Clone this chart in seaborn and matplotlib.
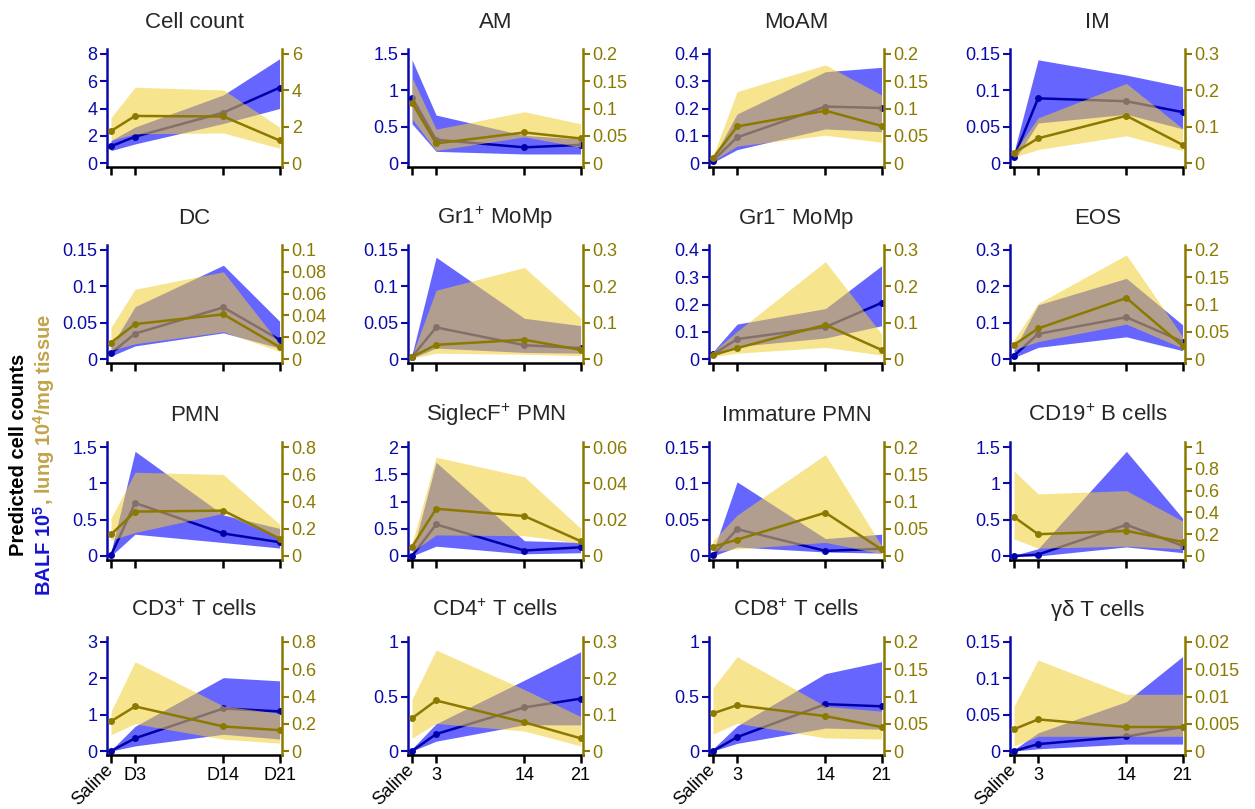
import matplotlib
matplotlib.use("Agg")
import matplotlib.pyplot as plt
from matplotlib.ticker import FuncFormatter
import seaborn as sns

# ---------------- data ----------------
days = [0, 3, 14, 21]

titles = ["Cell count", "AM", "MoAM", "IM",
          "DC", r"Gr1$^{\mathrm{+}}$ MoMp", r"Gr1$^{\mathrm{-}}$ MoMp", "EOS",
          "PMN", r"SiglecF$^{\mathrm{+}}$ PMN", "Immature PMN", r"CD19$^{\mathrm{+}}$ B cells",
          r"CD3$^{\mathrm{+}}$ T cells", r"CD4$^{\mathrm{+}}$ T cells", r"CD8$^{\mathrm{+}}$ T cells", "γδ T cells"]

balf_mean = [
    [1.23, 1.93, 3.7, 5.53], [0.90, 0.32, 0.215, 0.25], [0.009, 0.094, 0.207, 0.202], [0.008, 0.089, 0.085, 0.070],
    [0.008, 0.035, 0.071, 0.0265], [0.003, 0.0435, 0.019, 0.015], [0.017, 0.073, 0.117, 0.206], [0.009, 0.069, 0.115, 0.048],
    [0.01, 0.73, 0.31, 0.19], [0.0, 0.58, 0.10, 0.16], [0.001, 0.037, 0.007, 0.010], [0.0, 0.02, 0.43, 0.14],
    [0.0, 0.35, 1.17, 1.09], [0.0, 0.155, 0.40, 0.48], [0.0, 0.127, 0.43, 0.41], [0.0, 0.0095, 0.02, 0.033],
]
balf_lo = [
    [0.91, 1.4, 2.9, 4.0], [0.54, 0.16, 0.124, 0.124], [0.002, 0.049, 0.125, 0.115], [0.003, 0.055, 0.067, 0.047],
    [0.004, 0.018, 0.036, 0.015], [0.001, 0.015, 0.009, 0.008], [0.009, 0.046, 0.077, 0.122], [0.004, 0.032, 0.061, 0.023],
    [0.0, 0.30, 0.185, 0.11], [0.0, 0.18, 0.04, 0.06], [0.0, 0.0124, 0.0055, 0.004], [0.0, 0.0, 0.125, 0.046],
    [0.0, 0.14, 0.46, 0.33], [0.0, 0.09, 0.24, 0.24], [0.0, 0.07, 0.21, 0.2], [0.0, 0.003, 0.0095, 0.0095],
]
balf_hi = [
    [1.65, 2.64, 5.0, 7.65], [1.42, 0.66, 0.38, 0.33], [0.018, 0.18, 0.335, 0.351], [0.015, 0.142, 0.121, 0.105],
    [0.017, 0.072, 0.129, 0.052], [0.006, 0.14, 0.056, 0.046], [0.027, 0.128, 0.185, 0.342], [0.025, 0.149, 0.222, 0.094],
    [0.055, 1.44, 0.565, 0.38], [0.04, 1.72, 0.28, 0.25], [0.0055, 0.102, 0.024, 0.030], [0.01, 0.1, 1.44, 0.52],
    [0.02, 0.68, 2.02, 1.93], [0.02, 0.25, 0.65, 0.91], [0.02, 0.23, 0.71, 0.82], [0.002, 0.025, 0.068, 0.13],
]
lung_mean = [
    [1.76, 2.59, 2.56, 1.24], [0.111, 0.036, 0.056, 0.045], [0.009, 0.067, 0.096, 0.068], [0.028, 0.068, 0.13, 0.05],
    [0.015, 0.032, 0.041, 0.011], [0.006, 0.039, 0.053, 0.025], [0.011, 0.03, 0.094, 0.025], [0.026, 0.056, 0.112, 0.024],
    [0.158, 0.326, 0.333, 0.128], [0.005, 0.026, 0.022, 0.0082], [0.017, 0.03, 0.0795, 0.012], [0.358, 0.20, 0.23, 0.13],
    [0.218, 0.327, 0.18, 0.153], [0.09, 0.139, 0.079, 0.035], [0.069, 0.084, 0.064, 0.044], [0.004, 0.0058, 0.0044, 0.0044],
]
lung_lo = [
    [1.24, 1.61, 1.65, 0.81], [0.081, 0.023, 0.048, 0.029], [0.004, 0.031, 0.051, 0.038], [0.016, 0.037, 0.075, 0.034],
    [0.008, 0.014, 0.025, 0.007], [0.002, 0.016, 0.013, 0.009], [0.007, 0.016, 0.032, 0.011], [0.017, 0.032, 0.064, 0.02],
    [0.116, 0.173, 0.314, 0.128], [0.0022, 0.0116, 0.0112, 0.0069], [0.008, 0.013, 0.025, 0.004], [0.157, 0.072, 0.09, 0.066],
    [0.12, 0.20, 0.087, 0.058], [0.035, 0.076, 0.055, 0.014], [0.031, 0.051, 0.024, 0.022], [0.0009, 0.0027, 0.0027, 0.0027],
]
lung_hi = [
    [2.5, 4.17, 4.02, 1.98], [0.157, 0.062, 0.094, 0.072], [0.013, 0.131, 0.18, 0.125], [0.029, 0.124, 0.219, 0.095],
    [0.029, 0.064, 0.080, 0.014], [0.009, 0.189, 0.252, 0.113], [0.02, 0.076, 0.268, 0.069], [0.035, 0.102, 0.191, 0.041],
    [0.277, 0.615, 0.598, 0.232], [0.0069, 0.0544, 0.0436, 0.0153], [0.028, 0.075, 0.186, 0.019], [0.78, 0.57, 0.60, 0.32],
    [0.29, 0.655, 0.33, 0.276], [0.142, 0.278, 0.169, 0.095], [0.116, 0.173, 0.082, 0.073], [0.0082, 0.0167, 0.0104, 0.0104],
]

left_ticks = [
    [0, 2, 4, 6, 8], [0, 0.5, 1, 1.5], [0, 0.1, 0.2, 0.3, 0.4], [0, 0.05, 0.1, 0.15],
    [0, 0.05, 0.1, 0.15], [0, 0.05, 0.1, 0.15], [0, 0.1, 0.2, 0.3, 0.4], [0, 0.1, 0.2, 0.3],
    [0, 0.5, 1, 1.5], [0, 0.5, 1, 1.5, 2], [0, 0.05, 0.1, 0.15], [0, 0.5, 1, 1.5],
    [0, 1, 2, 3], [0, 0.5, 1], [0, 0.5, 1], [0, 0.05, 0.1, 0.15],
]
right_ticks = [
    [0, 2, 4, 6], [0, 0.05, 0.1, 0.15, 0.2], [0, 0.05, 0.1, 0.15, 0.2], [0, 0.1, 0.2, 0.3],
    [0, 0.02, 0.04, 0.06, 0.08, 0.1], [0, 0.1, 0.2, 0.3], [0, 0.1, 0.2, 0.3], [0, 0.05, 0.1, 0.15, 0.2],
    [0, 0.2, 0.4, 0.6, 0.8], [0, 0.02, 0.04, 0.06], [0, 0.05, 0.1, 0.15, 0.2], [0, 0.2, 0.4, 0.6, 0.8, 1],
    [0, 0.2, 0.4, 0.6, 0.8], [0, 0.1, 0.2, 0.3], [0, 0.05, 0.1, 0.15, 0.2], [0, 0.005, 0.01, 0.015, 0.02],
]

xlabels_first = ["Saline", "D3", "D14", "D21"]
xlabels_other = ["Saline", "3", "14", "21"]

# ---------------- style ----------------
sns.set_style("ticks")
plt.rcParams["font.family"] = ["Liberation Sans", "DejaVu Sans"]
plt.rcParams["mathtext.fontset"] = "custom"
plt.rcParams["mathtext.rm"] = "Liberation Sans"
plt.rcParams["mathtext.bf"] = "Liberation Sans:bold"
plt.rcParams["mathtext.it"] = "Liberation Sans:italic"

BAND_BLUE = "#0000FF"
LINE_BLUE = "#0000A8"
AX_BLUE = "#0A0AAA"
BAND_YEL = "#F2CE34"
OLIVE = "#8C7A00"
LABEL_BLUE = "#1414D2"
LABEL_TAN = "#C2A44A"

W, H = 1255, 809
fig = plt.figure(figsize=(W / 100, H / 100), dpi=100)

col_left = [107, 408, 709, 1010]
row_top = [49, 245, 442, 637]
AW, AH = 175, 118
lo_f, hi_f = -4 / 109, 1 + 5 / 109

fmt = FuncFormatter(lambda v, p: f"{v:g}")

for i in range(16):
    r, c = divmod(i, 4)
    ax = fig.add_axes([col_left[c] / W, 1 - (row_top[r] + AH) / H, AW / W, AH / H])
    ax.fill_between(days, balf_lo[i], balf_hi[i], color=BAND_BLUE, alpha=0.6, linewidth=0)
    sns.lineplot(x=days, y=balf_mean[i], ax=ax, color=LINE_BLUE, marker="o",
                 markersize=5, markeredgewidth=0, linewidth=1.8)
    ax2 = ax.twinx()
    ax2.fill_between(days, lung_lo[i], lung_hi[i], color=BAND_YEL, alpha=0.55, linewidth=0)
    sns.lineplot(x=days, y=lung_mean[i], ax=ax2, color=OLIVE, marker="o",
                 markersize=5, markeredgewidth=0, linewidth=1.8)

    T1 = left_ticks[i][-1]
    T2 = right_ticks[i][-1]
    ax.set_ylim(lo_f * T1, hi_f * T1)
    ax2.set_ylim(lo_f * T2, hi_f * T2)
    ax.set_yticks(left_ticks[i])
    ax2.set_yticks(right_ticks[i])
    ax.yaxis.set_major_formatter(fmt)
    ax2.yaxis.set_major_formatter(fmt)
    ax.set_xlim(-0.5, 21.3)
    ax.set_xticks(days)
    ax.set_ylabel("")
    ax2.set_ylabel("")

    for s in ["top", "right"]:
        ax.spines[s].set_visible(False)
    for s in ["top", "left", "bottom"]:
        ax2.spines[s].set_visible(False)
    ax.spines["left"].set_color(AX_BLUE)
    ax.spines["left"].set_linewidth(1.8)
    ax.spines["bottom"].set_color("black")
    ax.spines["bottom"].set_linewidth(1.8)
    ax2.spines["right"].set_color(OLIVE)
    ax2.spines["right"].set_linewidth(1.8)

    ax.tick_params(axis="y", colors=AX_BLUE, direction="out", length=5, width=1.5,
                   labelsize=13, pad=2)
    ax2.tick_params(axis="y", colors=OLIVE, direction="out", length=5, width=1.5,
                    labelsize=13, pad=2)
    ax.tick_params(axis="x", colors="black", direction="out", length=6, width=1.8,
                   labelsize=13, pad=3)

    if r == 3:
        ax.set_xticklabels(xlabels_first if c == 0 else xlabels_other)
        lab0 = ax.get_xticklabels()[0]
        lab0.set_rotation(45)
        lab0.set_ha("right")
        lab0.set_va("center")
        lab0.set_rotation_mode("anchor")
    else:
        ax.tick_params(axis="x", labelbottom=False)

    ax.set_title(titles[i], fontsize=16, pad=15)

# ---------------- y label ----------------
yc = 1 - 455 / H
fig.text(19 / W, yc, "Predicted cell counts", rotation=90, ha="center", va="center",
         fontsize=14.5, fontweight="bold", color="black")

pieces = [(r"BALF 10$^{\mathbf{5}}$", LABEL_BLUE),
          (r", lung 10$^{\mathbf{4}}$/mg tissue", LABEL_TAN)]
renderer = fig.canvas.get_renderer()
texts = []
y = 0.0
for s, col in pieces:
    t = fig.text(44 / W, y, s, rotation=90, rotation_mode="anchor", ha="left", va="center",
                 fontsize=14.5, fontweight="bold", color=col)
    bb = t.get_window_extent(renderer)
    texts.append((t, y))
    y += bb.height / fig.bbox.height
total = y
for t, y0 in texts:
    t.set_position((44 / W, y0 + yc - total / 2))

fig.savefig("out.png", dpi=100)
